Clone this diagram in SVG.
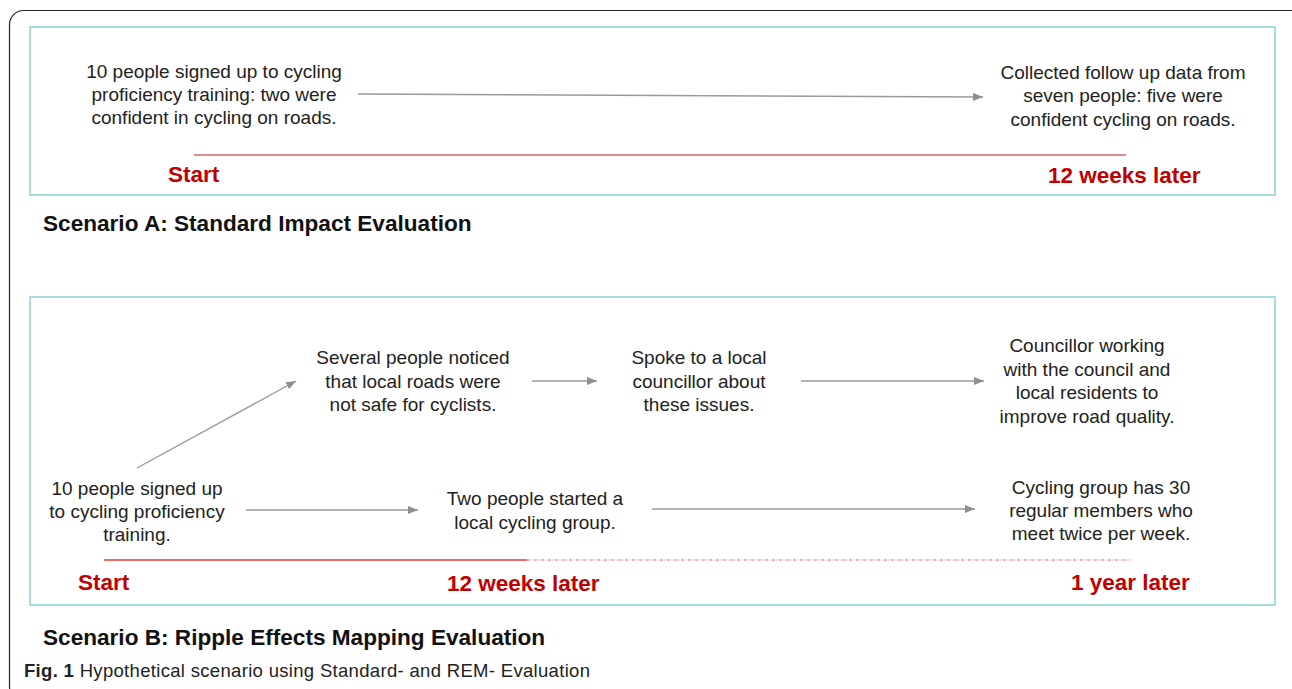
<svg xmlns="http://www.w3.org/2000/svg" width="1292" height="689" viewBox="0 0 1292 689">
<defs>
<marker id="ah" markerWidth="10" markerHeight="8" refX="10" refY="4" orient="auto" markerUnits="userSpaceOnUse">
<path d="M0,0 L10,4 L0,8 Z" fill="#8f8f8f"/>
</marker>
<style>
.t{font-family:"Liberation Sans",Arial,sans-serif;font-size:19px;fill:#222;text-anchor:middle}
.r{font-family:"Liberation Sans",Arial,sans-serif;font-size:22.5px;font-weight:bold;fill:#c00000}
.h{font-family:"Liberation Sans",Arial,sans-serif;font-size:22.6px;font-weight:bold;fill:#111}
.box{fill:none;stroke:#a8dcdc;stroke-width:2}
.c{stroke:#9a9a9a;stroke-width:1.4;fill:none;marker-end:url(#ah)}
</style>
</defs>
<rect width="1292" height="689" fill="#fff"/>
<rect x="9.5" y="10.5" width="1296" height="690" rx="14" fill="none" stroke="#222" stroke-width="1.2"/>

<g id="scenarioA">
<rect class="box" x="30" y="27" width="1245" height="168"/>
<line x1="194" y1="155" x2="1126" y2="155" stroke="#e08c8c" stroke-width="2"/>
<text class="r" x="168" y="182">Start</text>
<text class="r" x="1048" y="183">12 weeks later</text>
</g>
<g id="a-start">
<text class="t" x="214" y="78">10 people signed up to cycling</text>
<text class="t" x="214" y="101">proficiency training: two were</text>
<text class="t" x="214" y="124">confident in cycling on roads.</text>
</g>
<g id="a-end">
<text class="t" x="1123" y="79">Collected follow up data from</text>
<text class="t" x="1123" y="102">seven people: five were</text>
<text class="t" x="1123" y="126">confident cycling on roads.</text>
</g>
<text id="titleA" class="h" x="43" y="231">Scenario A: Standard Impact Evaluation</text>

<g id="scenarioB">
<rect class="box" x="30" y="297" width="1245" height="308"/>
<line x1="104" y1="560" x2="527" y2="560" stroke="#e53935" stroke-width="1.6"/>
<line x1="527" y1="560" x2="1130" y2="560" stroke="#e86a6a" stroke-width="1.2" stroke-dasharray="3,1.5,1,1.5"/>
<text class="r" x="78" y="590">Start</text>
<text class="r" x="447" y="591">12 weeks later</text>
<text class="r" x="1071" y="590">1 year later</text>
</g>
<g id="b-start">
<text class="t" x="137" y="495">10 people signed up</text>
<text class="t" x="137" y="518">to cycling proficiency</text>
<text class="t" x="137" y="541">training.</text>
</g>
<g id="b-noticed">
<text class="t" x="413" y="364">Several people noticed</text>
<text class="t" x="413" y="388">that local roads were</text>
<text class="t" x="413" y="411">not safe for cyclists.</text>
</g>
<g id="b-spoke">
<text class="t" x="699" y="364">Spoke to a local</text>
<text class="t" x="699" y="388">councillor about</text>
<text class="t" x="699" y="411">these issues.</text>
</g>
<g id="b-councillor">
<text class="t" x="1087" y="352">Councillor working</text>
<text class="t" x="1087" y="376">with the council and</text>
<text class="t" x="1087" y="399">local residents to</text>
<text class="t" x="1087" y="423">improve road quality.</text>
</g>
<g id="b-group">
<text class="t" x="535" y="505">Two people started a</text>
<text class="t" x="535" y="529">local cycling group.</text>
</g>
<g id="b-members">
<text class="t" x="1101" y="494">Cycling group has 30</text>
<text class="t" x="1101" y="517">regular members who</text>
<text class="t" x="1101" y="540">meet twice per week.</text>
</g>
<text id="titleB" class="h" x="43" y="645">Scenario B: Ripple Effects Mapping Evaluation</text>

<g id="connectors">
<line class="c" x1="358" y1="94" x2="983" y2="97"/>
<line class="c" x1="137" y1="468" x2="296" y2="381"/>
<line class="c" x1="532" y1="381" x2="597" y2="381"/>
<line class="c" x1="801" y1="381" x2="984" y2="381"/>
<line class="c" x1="246" y1="510" x2="418" y2="510"/>
<line class="c" x1="652" y1="509" x2="975" y2="509"/>
</g>

<text id="caption" x="24" y="677" font-family="'Liberation Sans',Arial,sans-serif" font-size="18.5px" fill="#222" textLength="566" lengthAdjust="spacing"><tspan font-weight="bold">Fig. 1</tspan>  Hypothetical scenario using Standard- and REM- Evaluation</text>
</svg>
